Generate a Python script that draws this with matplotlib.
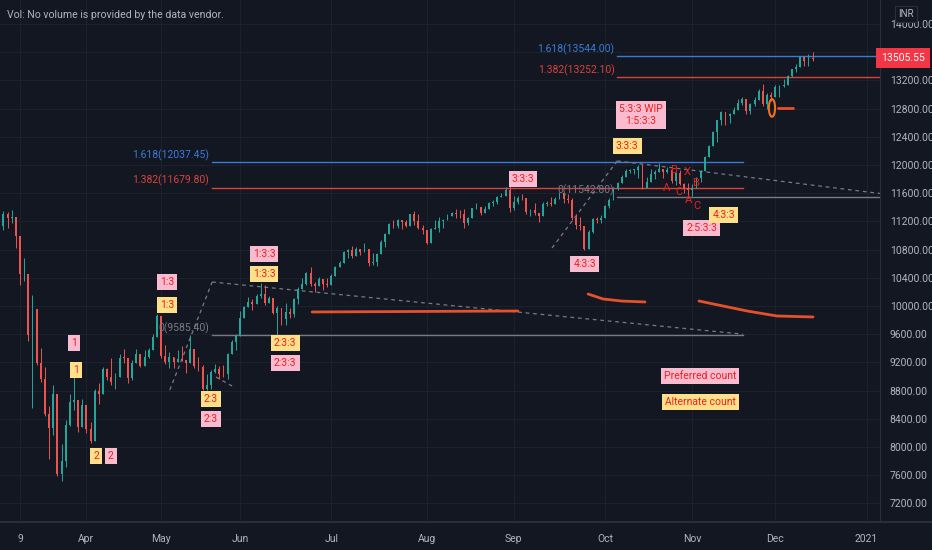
import matplotlib.pyplot as plt
import numpy as np
from matplotlib.patches import Ellipse
from matplotlib.lines import Line2D

plt.rcParams['font.family'] = ['Roboto', 'DejaVu Sans']

# daily Nifty candles, 2 Mar 2020 .. 14 Dec 2020 (one entry per trading day)
first_open = 11388
closes = [
    11132, 11303, 11251, 11269, 10989, 10451, 10458, 9590, 9955, 9197, 8967, 8469, 8263, 8745, 7610, 7801, 8318, 8641, 8660, 8281, 8598,  # Mar
    8254, 8084, 8792, 8748, 9112, 8994, 8925, 8992, 9267, 9262, 8981, 9187, 9314, 9154, 9282, 9380, 9553, 9860,  # Apr
    9294, 9206, 9270, 9199, 9251, 9239, 9197, 9384, 9142, 9137, 8823, 8880, 9067, 9106, 9039, 9029, 9315, 9490, 9580,  # May
    9826, 9980, 10062, 10029, 10142, 10168, 10047, 10116, 9902, 9972, 9814, 9914, 9882, 10092, 10244, 10312, 10471, 10305, 10288, 10383, 10312, 10302,  # Jun
    10430, 10552, 10607, 10764, 10800, 10706, 10813, 10768, 10802, 10607, 10618, 10740, 10902, 11022, 11162, 11132, 11215, 11194, 11131, 11300, 11202, 11102, 11073,  # Jul
    10892, 11095, 11102, 11200, 11214, 11270, 11322, 11308, 11300, 11178, 11247, 11385, 11409, 11312, 11372, 11467, 11472, 11549, 11559, 11647, 11388,  # Aug
    11470, 11535, 11527, 11333, 11355, 11318, 11278, 11449, 11465, 11440, 11521, 11604, 11516, 11505, 11251, 11153, 11132, 10806, 11050, 11228, 11222, 11248,  # Sep
    11417, 11503, 11662, 11738, 11835, 11914, 11930, 11935, 11971, 11680, 11762, 11873, 11897, 11938, 11896, 11930, 11767, 11889, 11730, 11670, 11642,  # Oct
    11669, 11813, 11908, 12120, 12264, 12461, 12631, 12749, 12691, 12720, 12780, 12874, 12938, 12772, 12860, 12926, 13055, 12858, 12987, 12969,  # Nov
    13109, 13114, 13134, 13259, 13356, 13393, 13529, 13479, 13514, 13505.55,  # Dec
]
highs = [
    11433, 11342, 11329, 11357, 11035, 10752, 10674, 10102, 10159, 9600, 9404, 9128, 8575, 8883, 8253, 8036, 8377, 8749, 9038, 8576, 8678,
    8588, 8356, 8819, 8913, 9128, 9126, 9261, 9053, 9324, 9390, 9044, 9230, 9390, 9296, 9377, 9404, 9599, 9890,
    9533, 9450, 9346, 9277, 9382, 9439, 9236, 9584, 9346, 9272, 9158, 9030, 9093, 9178, 9149, 9161, 9334, 9511, 9598,
    9931, 9996, 10125, 10094, 10177, 10328, 10291, 10148, 10112, 9996, 9943, 10046, 9966, 10111, 10273, 10393, 10484, 10553, 10342, 10409, 10337, 10401,
    10447, 10572, 10632, 10774, 10814, 10847, 10836, 10804, 10894, 10755, 10755, 10755, 10933, 11038, 11179, 11225, 11239, 11225, 11225, 11310, 11341, 11299, 11150,
    11058, 11112, 11225, 11257, 11231, 11299, 11337, 11373, 11359, 11370, 11267, 11396, 11460, 11361, 11418, 11480, 11498, 11562, 11608, 11686, 11794,
    11554, 11553, 11584, 11452, 11382, 11459, 11302, 11469, 11493, 11552, 11544, 11618, 11562, 11585, 11535, 11303, 11263, 11000, 11071, 11241, 11267, 11286,
    11428, 11530, 11684, 11758, 11852, 11939, 11950, 11949, 11997, 12018, 11828, 11943, 11923, 12025, 11925, 11974, 11942, 11899, 11929, 11744, 11749,
    11726, 11836, 11929, 12131, 12281, 12475, 12644, 12769, 12743, 12734, 12829, 12936, 12963, 12870, 12879, 12968, 13079, 13145, 13019, 13035,
    13129, 13129, 13217, 13280, 13366, 13432, 13548, 13513, 13579, 13597,
]
lows = [
    11036, 11082, 11108, 11175, 10827, 10294, 10350, 9508, 8555, 9159, 8916, 8439, 7833, 8176, 7583, 7511, 7715, 8304, 8522, 8215, 8358,
    8198, 8055, 8360, 8604, 8904, 8946, 8883, 8821, 9091, 9190, 8910, 8947, 9255, 9141, 9250, 9260, 9446, 9666,
    9266, 9175, 9116, 9117, 9238, 9219, 9043, 9345, 9126, 9079, 8807, 8806, 8821, 9056, 8969, 8996, 8968, 9336, 9376,
    9707, 9824, 9991, 9944, 10040, 10120, 10021, 10037, 9885, 9545, 9727, 9729, 9833, 9845, 10024, 10277, 10301, 10281, 10194, 10311, 10224, 10268,
    10300, 10477, 10562, 10696, 10677, 10676, 10713, 10728, 10771, 10562, 10577, 10562, 10749, 10836, 11082, 11103, 11113, 11090, 11116, 11142, 11151, 11085, 11026,
    10882, 10908, 11087, 11046, 11111, 11221, 11280, 11253, 11251, 11112, 11144, 11256, 11372, 11289, 11345, 11390, 11418, 11451, 11541, 11589, 11326,
    11366, 11452, 11500, 11303, 11276, 11289, 11185, 11326, 11419, 11418, 11452, 11523, 11456, 11465, 11218, 11085, 11076, 10791, 10841, 11030, 11173, 11184,
    11304, 11386, 11538, 11640, 11774, 11867, 11888, 11872, 11822, 11661, 11723, 11776, 11804, 11910, 11810, 11880, 11741, 11723, 11716, 11606, 11535,
    11557, 11723, 11756, 12027, 12131, 12367, 12321, 12570, 12573, 12590, 12756, 12821, 12852, 12730, 12730, 12832, 12978, 12833, 12790, 12914,
    12983, 12962, 13099, 13152, 13242, 13319, 13399, 13403, 13402, 13480,
]

tick_idx = [5, 21, 39, 58, 80, 103, 124, 146, 167, 187, 209]
tick_lab = ['9', 'Apr', 'May', 'Jun', 'Jul', 'Aug', 'Sep', 'Oct', 'Nov', 'Dec', '2021']
price_ticks = np.arange(7200, 14001, 400)
hidden_tick = 13600  # sits under the last-price badge
last_price = 13505.55

# fib levels: (start idx, end idx, price, label, colour)
fib_levels = [
    (148.9, 213, 13544.00, '1.618(13544.00)', '#3a7bd5'),
    (148.9, 213, 13252.10, '1.382(13252.10)', '#d9433b'),
    (148.9, 213, 11542.80, '0(11542.80)', '#787b86'),
    (51.3, 179.2, 12037.45, '1.618(12037.45)', '#3a7bd5'),
    (51.3, 179.2, 11679.80, '1.382(11679.80)', '#d9433b'),
    (51.3, 179.2, 9585.40, '0(9585.40)', '#787b86'),
]
dashed = [
    ([41.1, 51.3], [8809, 10340]),
    ([51.3, 179.2], [10340, 9600]),
    ([52.2, 56.1], [8993, 8865]),
    ([133.2, 148.9], [10823, 12057]),
    ([148.9, 213], [12057, 11590]),
]
drawn = [
    ([75.4, 101, 125], [9915, 9922, 9929]),
    ([141.9, 145.5, 150.0, 155.6], [10170, 10099, 10070, 10057]),
    ([168.6, 180.2, 187.4, 196.1], [10071, 9929, 9858, 9844]),
    ([187.7, 191.3], [12809, 12809]),
]

pink = [
    (18.0, 9475, '1'), (26.9, 7872, '2'), (40.4, 10340, '1:3'), (51.0, 8397, '2:3'),
    (63.8, 10738, '1:3:3'), (68.9, 9191, '2:3:3'), (126.2, 11801, '3:3:3'), (141.1, 10596, '4:3:3'),
    (154.6, 12709, '5:3:3 WIP\n1:5:3:3'), (169.3, 11106, '2:5:3:3'), (168.9, 9007, 'Preferred count'),
]
yellow = [
    (18.5, 9092, '1'), (23.3, 7872, '2'), (40.4, 10014, '1:3'), (51.0, 8681, '2:3'),
    (63.8, 10454, '1:3:3'), (68.9, 9475, '2:3:3'), (151.3, 12270, '3:3:3'), (174.6, 11291, '4:3:3'),
    (168.9, 8638, 'Alternate count'),
]
letters = [
    (162.6, 11929, 'B'), (165.7, 11901, 'X'), (160.9, 11674, 'A'), (163.8, 11617, 'C'),
    (166.2, 11504, 'A'), (168.1, 11418, 'C'), (167.9, 11745, 'B'),
]

bg = '#131722'
txt = '#b2b5be'
grid_c = '#1d212c'

fig = plt.figure(figsize=(9.32, 5.5), dpi=100, facecolor=bg)
ax = fig.add_axes([0, 28 / 550, 880 / 932, 522 / 550], facecolor=bg)

c = np.array(closes, dtype=float)
o = np.r_[first_open, c[:-1]]
hi = np.maximum(np.array(highs, dtype=float), np.maximum(o, c))
lo = np.minimum(np.array(lows, dtype=float), np.minimum(o, c))
x = np.arange(len(c))
cols = np.where(c >= o, '#26a69a', '#ef5350')

ax.vlines(x, lo, hi, colors=cols, linewidth=0.7, zorder=3)
body = np.maximum(np.abs(c - o), 8)
ax.bar(x, body, bottom=np.minimum(o, c), width=0.45, color=cols, zorder=3)

for x0, x1, p, lab, col in fib_levels:
    ax.plot([x0, x1], [p, p], color=col, lw=1, zorder=2)
    ax.annotate(lab, (x0, p), xytext=(-2, 5), textcoords='offset points',
                ha='right', va='center', color=col, fontsize=7.5, zorder=4)

for xs, ys in dashed:
    ax.plot(xs, ys, color='#787b86', lw=0.9, ls=(0, (3, 3)), zorder=2)

for xs, ys in drawn:
    ax.plot(xs, ys, color='#e4512b', lw=2, solid_capstyle='round', zorder=4)
ax.add_patch(Ellipse((186.2, 12809), 1.5, 250, fill=False, ec='#f2711c', lw=1.5, zorder=4))


def wave(i, p, s, fc):
    ax.text(i, p, s, ha='center', va='center', fontsize=7.5, color='#f0201c',
            multialignment='center', zorder=5,
            bbox=dict(boxstyle='square,pad=0.3', fc=fc, ec='none'))


for i, p, s in pink:
    wave(i, p, s, '#f8bbd0')
for i, p, s in yellow:
    wave(i, p, s, '#ffe08a')
for i, p, s in letters:
    ax.text(i, p, s, ha='center', va='center', fontsize=8, color='#f0201c', zorder=5)

ax.set_xlim(0.18, 212.23)
ax.set_ylim(6936, 14340)
ax.set_yticks(price_ticks, ['' if v == hidden_tick else f'{v:.2f}' for v in price_ticks])
ax.set_xticks(tick_idx, tick_lab)
ax.yaxis.tick_right()
ax.tick_params(axis='y', length=0, pad=7, labelsize=7.5, labelcolor=txt)
ax.tick_params(axis='x', length=0, pad=9, labelsize=7.5, labelcolor=txt)
ax.grid(True, color=grid_c, lw=0.8, zorder=0)
for s in ax.spines.values():
    s.set_visible(False)

fig.add_artist(Line2D([0, 1], [28 / 550, 28 / 550], color='#2a2e39', lw=1.5))
fig.add_artist(Line2D([880 / 932, 880 / 932], [28 / 550, 1], color='#2a2e39', lw=0.8))

fig.text(7 / 932, 1 - 15 / 550, 'Vol: No volume is provided by the data vendor.',
         color=txt, fontsize=7.6, va='center')
fig.text(906 / 932, 1 - 14 / 550, 'INR', color=txt, fontsize=7, ha='center', va='center',
         bbox=dict(boxstyle='square,pad=0.3', fc=bg, ec='#2a2e39', lw=0.8))
fig.text(881 / 932, 1 - 58 / 550, f'{last_price:.2f}', color='white', fontsize=7.5,
         ha='left', va='center',
         bbox=dict(boxstyle='square,pad=0.45', fc='#f23645', ec='none'))

fig.savefig('out.png', dpi=100, facecolor=bg)
